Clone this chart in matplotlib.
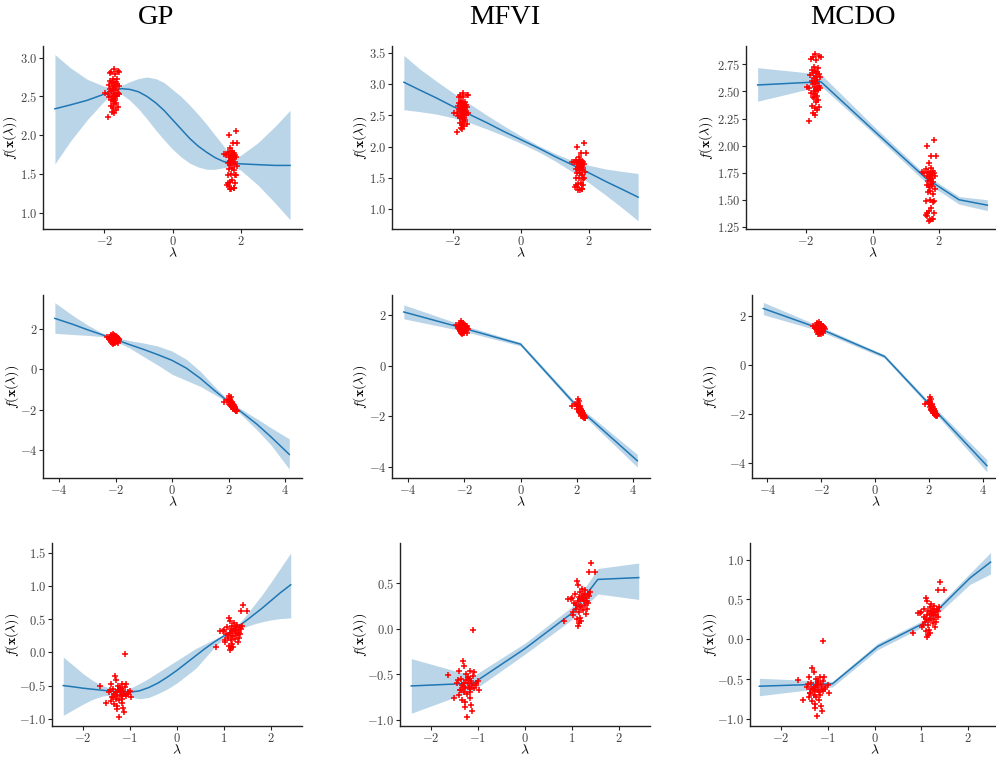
import numpy as np
import matplotlib.pyplot as plt
from matplotlib.ticker import MultipleLocator, FuncFormatter

plt.rcParams['mathtext.fontset'] = 'cm'

titles = ["GP", "MFVI", "MCDO"]

# ---- observed points (same data for every column in a row) ----
# row 1
x1a = [-1.72, -1.60, -1.80, -1.56, -1.84, -1.70, -1.76, -1.64, -1.82, -1.73, -1.67, -1.78, -1.62, -1.87, -1.71,
       -1.58, -1.76, -1.68, -1.83, -1.74, -1.66, -1.80, -1.61, -1.72, -1.90, -1.69, -1.63, -1.77, -1.57, -1.85,
       -1.73, -1.68, -1.79, -1.75, -1.65, -1.71, -1.81, -1.74, -1.67, -1.98, -1.78, -1.60, -1.73, -1.70, -1.90]
y1a = [2.85, 2.83, 2.82, 2.82, 2.80, 2.79, 2.73, 2.72, 2.70, 2.69, 2.68, 2.67, 2.66, 2.65, 2.64,
       2.63, 2.62, 2.61, 2.60, 2.59, 2.58, 2.57, 2.55, 2.54, 2.53, 2.52, 2.51, 2.50, 2.53, 2.49,
       2.48, 2.46, 2.45, 2.44, 2.42, 2.40, 2.37, 2.35, 2.33, 2.54, 2.30, 2.36, 2.28, 2.50, 2.23]
x1b = [1.85, 1.65, 1.77, 1.90, 1.70, 1.62, 1.75, 1.81, 1.67, 1.72, 1.84, 1.78, 1.74, 1.65, 1.87,
       1.50, 1.56, 1.71, 1.80, 1.76, 1.73, 1.68, 1.83, 1.75, 1.63, 1.79, 1.70, 1.88, 1.74, 1.66,
       1.81, 1.72, 1.62, 1.85, 1.82, 1.76, 1.69, 1.60, 1.84, 1.65, 1.79, 1.63, 1.73, 1.69, 1.81]
y1b = [2.05, 2.00, 1.90, 1.90, 1.84, 1.78, 1.79, 1.77, 1.76, 1.75, 1.75, 1.74, 1.73, 1.72, 1.72,
       1.76, 1.75, 1.71, 1.70, 1.69, 1.68, 1.67, 1.66, 1.65, 1.64, 1.63, 1.62, 1.60, 1.58, 1.57,
       1.55, 1.50, 1.49, 1.49, 1.48, 1.42, 1.40, 1.36, 1.38, 1.35, 1.32, 1.38, 1.31, 1.30, 1.32]
# row 2
x2a = [-2.30, -2.20, -2.15, -2.10, -2.05, -2.00, -1.95, -1.90, -1.87, -2.18, -2.12, -2.08, -2.02, -1.98, -1.93,
       -2.14, -2.06, -2.00, -1.96, -2.22, -2.10, -2.04, -1.92, -2.16, -2.08, -2.01, -1.97, -2.12, -2.05, -1.89,
       -2.19, -2.03, -1.99, -2.09, -2.13, -1.94]
y2a = [1.60, 1.62, 1.70, 1.75, 1.68, 1.65, 1.58, 1.55, 1.45, 1.55, 1.50, 1.60, 1.52, 1.48, 1.40,
       1.42, 1.45, 1.38, 1.35, 1.50, 1.32, 1.30, 1.30, 1.35, 1.25, 1.28, 1.42, 1.65, 1.55, 1.50,
       1.45, 1.62, 1.58, 1.38, 1.28, 1.48]
x2b = [1.84, 2.03, 2.08, 1.95, 2.00, 2.05, 2.10, 2.12, 2.15, 2.07, 2.02, 2.18, 2.20, 2.13, 2.09, 2.16, 2.22, 2.11,
       2.06, 2.14, 2.19, 2.25, 2.17, 2.23, 2.28, 2.21, 2.12, 2.08, 2.26, 2.15, 2.30, 2.04, 2.24, 2.18, 2.10, 2.27]
y2b = [-1.60, -1.32, -1.40, -1.50, -1.55, -1.48, -1.58, -1.62, -1.70, -1.65, -1.72, -1.78, -1.80, -1.75, -1.68,
       -1.85, -1.88, -1.83, -1.78, -1.92, -1.95, -2.00, -1.90, -2.02, -2.05, -1.98, -1.88, -1.82, -2.08, -1.97,
       -2.06, -1.60, -1.93, -1.86, -1.72, -2.00]
# row 3
x3a = [-1.63, -1.11, -1.33, -1.30, -1.40, -1.17, -1.00, -0.97, -1.52, -1.40, -1.27, -1.27, -1.23, -1.13, -1.14,
       -1.18, -1.32, -1.36, -1.25, -1.20, -1.10, -1.05, -1.35, -1.28, -1.22, -1.15, -1.08, -1.38, -1.30, -1.24,
       -1.18, -1.12, -1.42, -1.26, -1.20, -1.34, -1.16, -1.09, -1.29, -1.21, -1.05, -1.37, -1.45]
y3a = [-0.51, -0.02, -0.36, -0.41, -0.47, -0.47, -0.58, -0.68, -0.76, -0.73, -0.81, -0.86, -0.97, -0.90, -0.84,
       -0.76, -0.63, -0.55, -0.50, -0.55, -0.52, -0.60, -0.62, -0.65, -0.60, -0.58, -0.48, -0.68, -0.70, -0.72,
       -0.66, -0.62, -0.56, -0.57, -0.64, -0.78, -0.70, -0.65, -0.60, -0.53, -0.62, -0.67, -0.60]
x3b = [1.41, 1.48, 1.36, 0.82, 0.92, 1.10, 1.12, 1.13, 1.15, 1.29, 1.33, 1.00, 1.05, 1.08, 1.18,
       1.22, 1.25, 1.20, 1.15, 1.27, 1.30, 1.35, 1.38, 1.02, 1.10, 1.12, 1.24, 1.18, 1.28, 1.06,
       1.16, 1.32, 1.21, 1.14, 1.26, 1.03, 1.19, 1.09, 1.23, 1.31, 1.17, 1.36, 0.97]
y3b = [0.72, 0.62, 0.62, 0.08, 0.33, 0.52, 0.48, 0.03, 0.06, 0.16, 0.38, 0.34, 0.28, 0.22, 0.40,
       0.36, 0.30, 0.25, 0.18, 0.42, 0.34, 0.28, 0.40, 0.15, 0.10, 0.30, 0.20, 0.32, 0.26, 0.38,
       0.12, 0.22, 0.44, 0.35, 0.38, 0.18, 0.08, 0.26, 0.33, 0.30, 0.24, 0.36, 0.33]

# ---- predictive mean and band ----
gp1_x = [-3.45, -3.0, -2.5, -2.0, -1.75, -1.5, -1.25, -1.0, -0.75, -0.5, -0.25, 0.0, 0.25, 0.5, 0.75,
         1.0, 1.25, 1.5, 1.75, 2.0, 2.5, 3.0, 3.45]
gp1_m = [2.34, 2.39, 2.45, 2.53, 2.57, 2.60, 2.59, 2.56, 2.50, 2.42, 2.32, 2.20, 2.08, 1.96, 1.86,
         1.78, 1.71, 1.66, 1.64, 1.63, 1.62, 1.61, 1.61]
gp1_hi = [3.04, 2.87, 2.72, 2.63, 2.61, 2.64, 2.69, 2.73, 2.75, 2.73, 2.68, 2.59, 2.50, 2.39, 2.27,
          2.14, 2.00, 1.86, 1.70, 1.74, 1.90, 2.11, 2.32]
gp1_lo = [1.63, 1.92, 2.20, 2.44, 2.53, 2.53, 2.45, 2.34, 2.21, 2.07, 1.94, 1.82, 1.72, 1.64, 1.59,
          1.56, 1.56, 1.58, 1.60, 1.55, 1.36, 1.13, 0.91]

mf1_x = [-3.45, -3.0, -2.5, -2.0, -1.5, -1.0, -0.5, 0.0, 0.5, 1.0, 1.5, 2.0, 2.5, 3.0, 3.45]
mf1_m = [3.03, 2.91, 2.78, 2.64, 2.51, 2.38, 2.24, 2.11, 1.98, 1.84, 1.71, 1.58, 1.44, 1.31, 1.19]
mf1_hi = [3.46, 3.25, 3.05, 2.86, 2.68, 2.50, 2.33, 2.17, 2.02, 1.89, 1.78, 1.70, 1.64, 1.60, 1.57]
mf1_lo = [2.59, 2.56, 2.52, 2.46, 2.38, 2.28, 2.17, 2.05, 1.92, 1.77, 1.60, 1.42, 1.22, 1.01, 0.81]

mc1_x = [-3.45, -1.55, 0.0, 1.6, 2.6, 3.45]
mc1_m = [2.56, 2.59, 2.15, 1.70, 1.50, 1.45]
mc1_hi = [2.72, 2.66, 2.19, 1.73, 1.53, 1.50]
mc1_lo = [2.41, 2.55, 2.12, 1.66, 1.46, 1.40]

gp2_x = [-4.15, -3.5, -3.0, -2.5, -2.1, -1.5, -1.0, -0.5, 0.0, 0.5, 1.0, 1.5, 1.9, 2.3, 3.0, 3.5, 4.15]
gp2_m = [2.52, 2.22, 1.96, 1.72, 1.52, 1.22, 0.98, 0.72, 0.44, 0.06, -0.45, -1.05, -1.50, -1.95, -2.72, -3.35, -4.22]
gp2_hi = [3.30, 2.65, 2.20, 1.82, 1.62, 1.42, 1.30, 1.15, 0.90, 0.50, -0.10, -0.85, -1.40, -1.85, -2.45, -2.90, -3.45]
gp2_lo = [1.78, 1.72, 1.68, 1.62, 1.45, 1.05, 0.62, 0.20, -0.25, -0.55, -0.85, -1.25, -1.58, -2.05, -3.00, -3.75, -4.95]

mf2_x = [-4.15, -2.1, 0.0, 2.1, 4.15]
mf2_m = [2.12, 1.50, 0.85, -1.72, -3.75]
mf2_hi = [2.40, 1.62, 0.92, -1.62, -3.50]
mf2_lo = [1.85, 1.38, 0.78, -1.82, -4.00]

mc2_x = [-4.15, -2.1, 0.35, 2.1, 4.15]
mc2_m = [2.30, 1.50, 0.35, -1.70, -4.10]
mc2_hi = [2.55, 1.60, 0.42, -1.60, -3.85]
mc2_lo = [2.05, 1.40, 0.28, -1.80, -4.35]

gp3_x = [-2.42, -2.2, -2.0, -1.8, -1.6, -1.4, -1.2, -1.0, -0.8, -0.6, -0.4, -0.2, 0.0,
         0.2, 0.4, 0.6, 0.8, 1.0, 1.2, 1.4, 1.6, 1.8, 2.0, 2.2, 2.42]
gp3_m = [-0.50, -0.52, -0.54, -0.555, -0.57, -0.585, -0.595, -0.60, -0.58, -0.53, -0.46, -0.37, -0.27,
         -0.16, -0.05, 0.06, 0.16, 0.25, 0.34, 0.44, 0.55, 0.66, 0.78, 0.90, 1.02]
gp3_hi = [-0.07, -0.20, -0.32, -0.42, -0.50, -0.54, -0.56, -0.54, -0.47, -0.39, -0.30, -0.21, -0.12,
          -0.03, 0.06, 0.13, 0.20, 0.27, 0.36, 0.50, 0.68, 0.86, 1.06, 1.27, 1.50]
gp3_lo = [-0.95, -0.86, -0.78, -0.71, -0.66, -0.64, -0.64, -0.67, -0.70, -0.68, -0.62, -0.55, -0.46,
          -0.35, -0.24, -0.08, 0.08, 0.21, 0.30, 0.37, 0.42, 0.46, 0.49, 0.51, 0.52]

mf3_x = [-2.42, -1.1, 0.0, 1.0, 1.55, 2.42]
mf3_m = [-0.63, -0.60, -0.22, 0.17, 0.54, 0.56]
mf3_hi = [-0.33, -0.52, -0.16, 0.24, 0.66, 0.72]
mf3_lo = [-0.93, -0.68, -0.28, 0.10, 0.38, 0.32]

mc3_x = [-2.46, -0.9, 0.07, 1.08, 2.04, 2.48]
mc3_m = [-0.59, -0.56, -0.09, 0.21, 0.77, 0.97]
mc3_hi = [-0.49, -0.53, -0.05, 0.25, 0.83, 1.09]
mc3_lo = [-0.71, -0.60, -0.13, 0.17, 0.69, 0.82]

# panel limits / tick steps
xlims = [(-3.8, 3.8), (-4.57, 4.6), (-2.66, 2.66)]
ylims = [[(0.79, 3.15), (0.68, 3.61), (1.23, 2.92)],
         [(-5.39, 3.68), (-4.43, 2.79), (-4.6, 2.85)],
         [(-1.11, 1.65), (-1.07, 0.94), (-1.09, 1.21)]]
xsteps = [2, 2, 1]
ysteps = [[0.5, 0.5, 0.25], [2, 2, 2], [0.5, 0.5, 0.5]]
ydec = [[1, 1, 2], [0, 0, 0], [1, 1, 1]]


def fmt(dec):
    return FuncFormatter(lambda v, p: "$%.*f$" % (dec, v))


def panel(ax, pts, curve, i, j, ylab_off, h):
    xs, m, lo, hi = curve
    ax.fill_between(xs, lo, hi, color='C0', alpha=0.3, lw=0)
    ax.plot(xs, m, color='C0', lw=1.1)
    for px, py in pts:
        ax.scatter(px, py, marker='+', color='red', s=22, lw=1.1, zorder=3)
    ax.set_xlim(*xlims[i])
    ax.set_ylim(*ylims[i][j])
    ax.xaxis.set_major_locator(MultipleLocator(xsteps[i]))
    ax.yaxis.set_major_locator(MultipleLocator(ysteps[i][j]))
    ax.xaxis.set_major_formatter(fmt(0))
    ax.yaxis.set_major_formatter(fmt(ydec[i][j]))
    for s in ['top', 'right']:
        ax.spines[s].set_visible(False)
    for s in ['left', 'bottom']:
        ax.spines[s].set_color('#222222')
        ax.spines[s].set_linewidth(1.0)
    ax.tick_params(labelsize=9, length=3, width=0.8, colors='#222222', labelcolor='#444444', pad=1)
    # lambda sits just under the tick labels
    ax.set_xlabel(r'$\lambda$', fontsize=10, va='baseline')
    ax.xaxis.set_label_coords(0.5, -28 / h)
    ax.set_ylabel(r'$f(\mathbf{x}(\lambda))$', fontsize=10, va='center')
    ax.yaxis.set_label_coords(ylab_off, 0.5)


def main():
    W, H = 996, 757
    fig = plt.figure(figsize=(W / 100, H / 100), dpi=100)
    rows = [(46, 229), (295, 478), (543, 726)]
    lefts = [[43, 392, 746], [43, 392, 752], [52, 400, 750]]
    rights = [302, 650, 999]
    ylab_x = [[10, 360, 706], [12, 360, 710], [12, 360, 710]]
    pts = [[(x1a, y1a), (x1b, y1b)], [(x2a, y2a), (x2b, y2b)], [(x3a, y3a), (x3b, y3b)]]
    curves = [[(gp1_x, gp1_m, gp1_lo, gp1_hi), (mf1_x, mf1_m, mf1_lo, mf1_hi), (mc1_x, mc1_m, mc1_lo, mc1_hi)],
              [(gp2_x, gp2_m, gp2_lo, gp2_hi), (mf2_x, mf2_m, mf2_lo, mf2_hi), (mc2_x, mc2_m, mc2_lo, mc2_hi)],
              [(gp3_x, gp3_m, gp3_lo, gp3_hi), (mf3_x, mf3_m, mf3_lo, mf3_hi), (mc3_x, mc3_m, mc3_lo, mc3_hi)]]
    for i, (t, b) in enumerate(rows):
        for j in range(3):
            l, r = lefts[i][j], rights[j]
            ax = fig.add_axes([l / W, 1 - b / H, (r - l) / W, (b - t) / H])
            panel(ax, pts[i], curves[i][j], i, j, (ylab_x[i][j] - l) / (r - l), b - t)
    # column titles
    for cx, t in zip([156, 505, 853], titles):
        fig.text(cx / W, 1 - 24 / H, t, ha='center', va='baseline',
                 fontsize=20.5, family='Liberation Serif')
    fig.savefig('out.png', dpi=100)


if __name__ == "__main__":
    main()
